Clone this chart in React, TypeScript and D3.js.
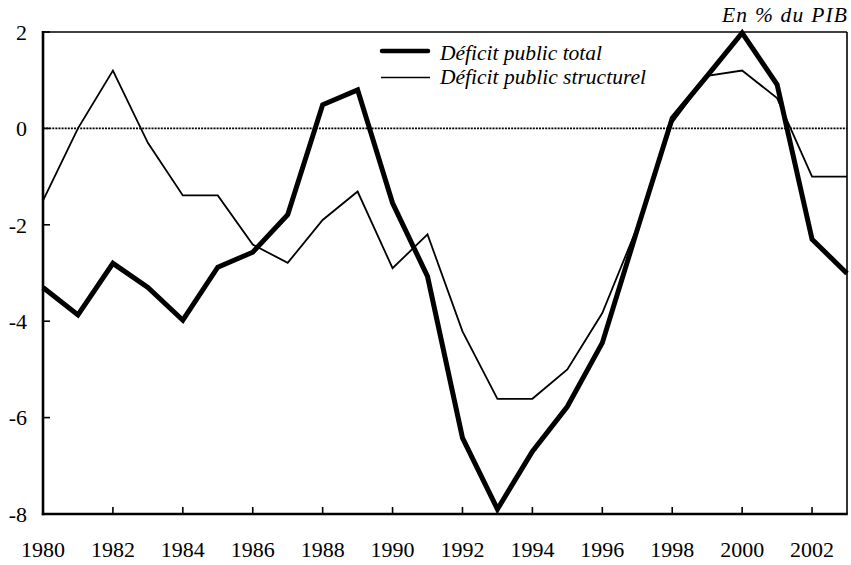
import React from "react";
import * as d3 from "d3";

const years = [1980,1981,1982,1983,1984,1985,1986,1987,1988,1989,1990,1991,1992,1993,1994,1995,1996,1997,1998,1999,2000,2001,2002,2003];
const deficitTotal = [-3.3,-3.87,-2.8,-3.3,-3.98,-2.88,-2.57,-1.79,0.49,0.8,-1.55,-3.07,-6.42,-7.9,-6.7,-5.77,-4.45,-2.1,0.21,1.09,1.98,0.91,-2.3,-3.01];
const deficitStructurel = [-1.5,0.0,1.2,-0.3,-1.39,-1.39,-2.41,-2.79,-1.9,-1.31,-2.9,-2.2,-4.21,-5.61,-5.61,-5.0,-3.83,-2.05,0.12,1.09,1.2,0.63,-1.0,-1.0];
const xTickLabels = [1980,1982,1984,1986,1988,1990,1992,1994,1996,1998,2000,2002];
const yTickLabels = [2,0,-2,-4,-6,-8];
const legendLabels = ["Déficit public total", "Déficit public structurel"];
const unitLabel = "En % du PIB";

const W = 851, H = 565;
const L = 43, R = 847, T = 32, B = 514;

export default function App() {
  const x = d3.scaleLinear().domain([1980, 2003]).range([L, R]);
  const y = d3.scaleLinear().domain([-8, 2]).range([B, T]);
  const line = d3.line<number>().x((_, i) => x(years[i])).y(d => y(d));
  const font = "'Liberation Serif', 'Times New Roman', serif";
  return (
    <svg width={W} height={H} style={{ position: "absolute", left: 0, top: 0, background: "#fff" }} fontFamily={font}>
      <rect x={0} y={0} width={W} height={H} fill="#fff" />
      {/* zero line */}
      <line x1={L} x2={R} y1={y(0)} y2={y(0)} stroke="#000" strokeWidth={1.8} strokeDasharray="2 1.1" />
      {/* series */}
      <path d={line(deficitStructurel) || ""} fill="none" stroke="#000" strokeWidth={1.8} strokeLinejoin="miter" />
      <path d={line(deficitTotal) || ""} fill="none" stroke="#000" strokeWidth={5} strokeLinejoin="miter" strokeMiterlimit={3} />
      {/* frame */}
      <line x1={L} x2={R} y1={T} y2={T} stroke="#000" strokeWidth={1.6} />
      <line x1={R} x2={R} y1={T} y2={B} stroke="#000" strokeWidth={1.6} />
      <line x1={L} x2={L} y1={T - 1} y2={B + 1.2} stroke="#000" strokeWidth={2.6} />
      <line x1={L - 1.2} x2={R + 0.8} y1={B} y2={B} stroke="#000" strokeWidth={2.6} />
      {/* y ticks */}
      {yTickLabels.map(v => (
        <g key={v}>
          <line x1={L} x2={L + 7} y1={y(v)} y2={y(v)} stroke="#000" strokeWidth={1.6} />
          <text x={27} y={y(v)} dy="0.35em" textAnchor="end" fontSize={22}>{v}</text>
        </g>
      ))}
      {/* x ticks */}
      {xTickLabels.map(v => (
        <g key={v}>
          {v !== 1980 && <line x1={x(v)} x2={x(v)} y1={B} y2={B - 7} stroke="#000" strokeWidth={1.6} />}
          <text x={x(v)} y={557} textAnchor="middle" fontSize={22}>{v}</text>
        </g>
      ))}
      {/* unit */}
      <text x={722} y={22} fontSize={21.5} fontStyle="italic" textLength={125}>{unitLabel}</text>
      {/* legend */}
      <line x1={382} x2={428} y1={51} y2={51} stroke="#000" strokeWidth={4.5} strokeLinecap="round" />
      <text x={440} y={60} fontSize={21.5} fontStyle="italic" textLength={162}>{legendLabels[0]}</text>
      <line x1={381} x2={430} y1={77.5} y2={77.5} stroke="#000" strokeWidth={1.7} />
      <text x={440} y={83.5} fontSize={21.5} fontStyle="italic" textLength={206}>{legendLabels[1]}</text>
    </svg>
  );
}
